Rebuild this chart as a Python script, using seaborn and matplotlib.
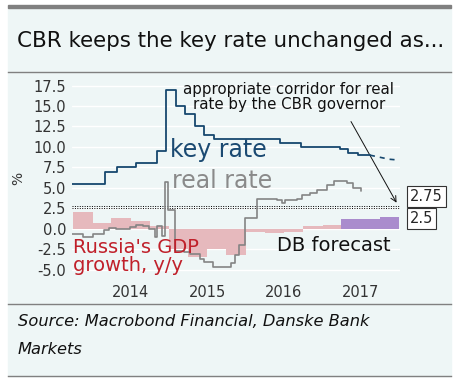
import pandas as pd
import seaborn as sns
import matplotlib.pyplot as plt
import matplotlib.dates as mdates
from matplotlib.patches import Rectangle
from matplotlib.lines import Line2D

# Datos
key_dates = ["2013-09-25", "2014-03-03", "2014-04-28", "2014-07-28", "2014-11-05",
             "2014-12-16", "2015-02-02", "2015-03-16", "2015-05-05", "2015-06-16",
             "2015-08-03", "2016-06-14", "2016-09-19", "2017-03-27", "2017-05-02",
             "2017-06-19", "2017-08-15"]
key_rate = [5.5, 7.0, 7.5, 8.0, 9.5, 17.0, 15.0, 14.0, 12.5, 11.5, 11.0, 10.5,
            10.0, 9.75, 9.25, 9.0, 9.0]

fc_dates = ["2017-08-15", "2017-09-30", "2017-11-15", "2017-12-31"]
key_fc = [9.0, 8.75, 8.5, 8.4]

real_dates = ["2013-09-25", "2013-11-15", "2014-01-03", "2014-02-25", "2014-03-18",
              "2014-04-25", "2014-06-28", "2014-07-25", "2014-08-28", "2014-09-28",
              "2014-10-25", "2014-11-02", "2014-11-26", "2014-12-13", "2014-12-27",
              "2015-01-28", "2015-03-15", "2015-04-10", "2015-05-27", "2015-06-18",
              "2015-07-28", "2015-10-25", "2015-11-10", "2015-12-01", "2015-12-28",
              "2016-02-01", "2016-02-25", "2016-05-28", "2016-06-22", "2016-07-06",
              "2016-09-01", "2016-09-25", "2016-11-04", "2016-12-06", "2017-01-22",
              "2017-02-24", "2017-04-28", "2017-05-28", "2017-07-01"]
real_rate = [-0.65, -0.95, -0.65, -0.1, 0.1, 0.0, 0.2, 0.5, 0.3, -0.05,
             -1.0, 0.4, -0.9, 5.7, 2.3, -2.7, -2.8, -3.1, -3.7, -4.0,
             -4.6, -4.2, -3.2, -1.95, 1.3, 1.3, 3.7, 3.5, 3.1, 3.5,
             3.7, 4.1, 4.35, 4.75, 5.4, 5.8, 5.6, 5.0, 4.6]

gdp_quarters = ["2013-10-01", "2014-01-01", "2014-04-01", "2014-07-01", "2014-10-01",
                "2015-01-01", "2015-04-01", "2015-07-01", "2015-10-01", "2016-01-01",
                "2016-04-01", "2016-07-01", "2016-10-01", "2017-01-01"]
gdp_growth = [2.1, 0.7, 1.3, 0.9, 0.35, -2.4, -3.4, -2.4, -3.2, -0.4, -0.5, -0.4, 0.3, 0.5]

gdp_fc_quarters = ["2017-04-01", "2017-07-01", "2017-10-01"]
gdp_fc = [1.2, 1.2, 1.4]

corridor = [2.5, 2.75]

bg = "#eef6f6"
W, H = 462, 388

fig = plt.figure(figsize=(W / 100, H / 100), dpi=100, facecolor="white")

# Panel de fondo y líneas separadoras
fig.patches.append(Rectangle((8 / W, 1 - 376 / H), 443 / W, 368 / H,
                             transform=fig.transFigure, color=bg, zorder=-10))
fig.patches.append(Rectangle((8 / W, 1 - 8 / H), 443 / W, 3 / H,
                             transform=fig.transFigure, color="#808080", zorder=-5))
for yy in [72, 304, 376]:
    fig.lines.append(Line2D([8 / W, 451 / W], [1 - yy / H, 1 - yy / H],
                            transform=fig.transFigure, color="#808080", lw=1))

fig.text(17 / W, 1 - 41 / H, "CBR keeps the key rate unchanged as...",
         fontsize=15.4, color="#111111", va="center", ha="left")
fig.text(18 / W, 1 - 322 / H, "Source: Macrobond Financial, Danske Bank",
         fontsize=11.7, style="italic", color="#111111", va="center")
fig.text(18 / W, 1 - 350 / H, "Markets",
         fontsize=11.7, style="italic", color="#111111", va="center")

sns.set_style("white")
ax = fig.add_axes([72 / W, 1 - 278 / H, 328 / W, 199 / H])
ax.set_facecolor(bg)

# Barras del PIB
gq = pd.to_datetime(gdp_quarters)
ax.bar(gq, gdp_growth, width=92, align="edge", color="#e6b9bd",
       edgecolor="none", linewidth=0, zorder=1)
gfq = pd.to_datetime(gdp_fc_quarters)
ax.bar(gfq, gdp_fc, width=92, align="edge", color="#aa8ccd",
       edgecolor="none", linewidth=0, zorder=1)

for c in corridor:
    ax.axhline(c, color="black", ls=(0, (1, 1.5)), lw=0.7, zorder=2)

sns.lineplot(x=pd.to_datetime(real_dates), y=real_rate, drawstyle="steps-post",
             color="#848484", lw=1.2, estimator=None, ax=ax, zorder=3)
sns.lineplot(x=pd.to_datetime(key_dates), y=key_rate, drawstyle="steps-post",
             color="#16476e", lw=1.3, estimator=None, ax=ax, zorder=4)
sns.lineplot(x=pd.to_datetime(fc_dates), y=key_fc, color="#16476e", lw=1.2,
             ls=(0, (3, 3)), estimator=None, ax=ax, zorder=4)

ax.set_xlim(pd.Timestamp("2013-09-25"), pd.Timestamp("2018-01-05"))
ax.set_ylim(-6, 18.3)

ax.set_yticks([-5 + 2.5 * i for i in range(10)])
ax.set_yticks([-6.25 + 2.5 * i for i in range(10)][1:], minor=True)
ax.yaxis.set_major_formatter(plt.FuncFormatter(lambda v, p: f"{v:.1f}"))
ax.yaxis.grid(True, color="white", lw=1)
ax.tick_params(axis="y", which="major", length=3, width=0.8, color="#555555",
               labelsize=10.5, labelcolor="#333333", pad=1)
ax.tick_params(axis="y", which="minor", length=1.5, width=0.8, color="#555555")

ax.xaxis.set_major_locator(mdates.YearLocator())
ax.xaxis.set_major_formatter(plt.NullFormatter())
ax.xaxis.set_minor_locator(mdates.MonthLocator(bymonth=7))
ax.xaxis.set_minor_formatter(mdates.DateFormatter("%Y"))
ax.tick_params(axis="x", which="major", length=3, width=0.8, color="#555555")
ax.tick_params(axis="x", which="minor", length=0, labelsize=10.5,
               labelcolor="#333333", pad=5)
for s in ax.spines.values():
    s.set_visible(False)
ax.set_ylabel("%", fontsize=10, color="#333333", labelpad=6)
ax.set_xlabel("")

# Etiquetas de series
ax.text(pd.Timestamp("2015-01-06"), 8.8, "key rate", fontsize=17,
        color="#1b4a72", va="baseline")
ax.text(pd.Timestamp("2015-01-15"), 4.96, "real rate", fontsize=17,
        color="#8a8a8a", va="baseline")
ax.text(pd.Timestamp("2013-09-29"), -2.9, "Russia's GDP", fontsize=14,
        color="#c0202a", va="baseline", zorder=5)
ax.text(pd.Timestamp("2013-09-29"), -5.2, "growth, y/y", fontsize=14,
        color="#c0202a", va="baseline", zorder=5)
ax.text(pd.Timestamp("2016-05-28"), -2.65, "DB forecast", fontsize=14,
        color="#111111", va="baseline")

ax.text(pd.Timestamp("2016-07-25"), 16.1,
        "appropriate corridor for real\nrate by the CBR governor",
        fontsize=10.8, ha="center", va="center", linespacing=1.0, color="#111111")
ax.annotate("", xy=(pd.Timestamp("2017-12-26"), 2.9),
            xytext=(pd.Timestamp("2017-05-10"), 13.4),
            arrowprops=dict(arrowstyle="->", lw=0.7, color="#111111"))

# Cajas de valores del corredor
for txt, yv in [("2.75", 4.0), ("2.5", 1.3)]:
    ax.annotate(txt, xy=(1.0, 0), xycoords=("axes fraction", "data"),
                xytext=(1.03, yv), textcoords=("axes fraction", "data"),
                fontsize=10.5, va="center", ha="left",
                bbox=dict(boxstyle="square,pad=0.2", fc="white", ec="#333333", lw=0.8),
                annotation_clip=False)

fig.savefig("out.png", dpi=100, facecolor="white")
